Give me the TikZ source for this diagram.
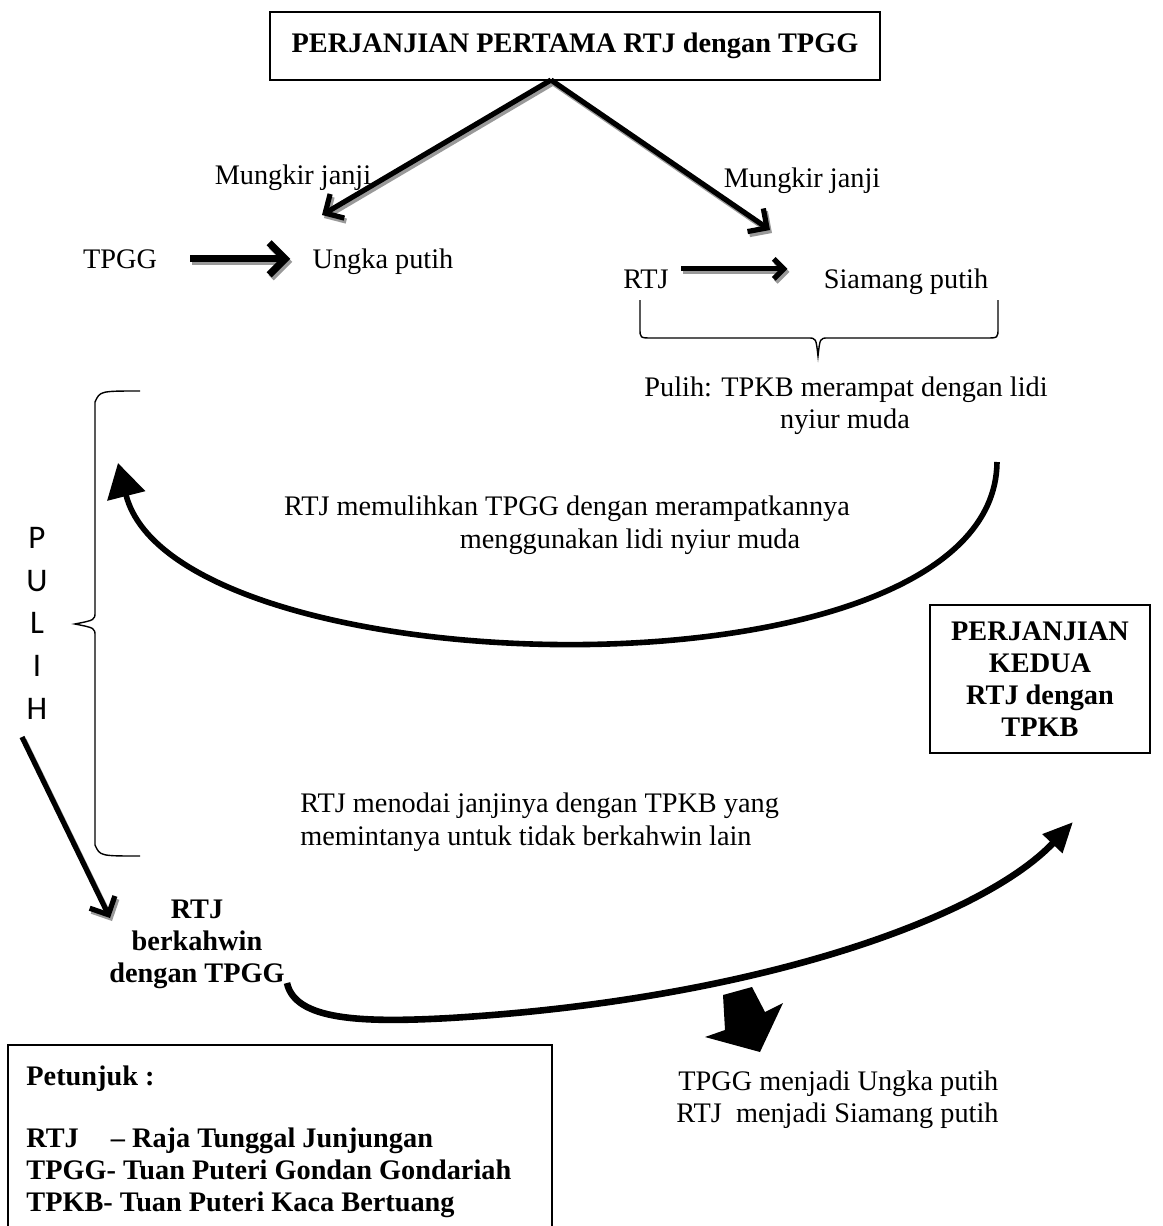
\documentclass[tikz,border=0pt]{standalone}
\usepackage{fontspec}
\setmainfont{Liberation Serif}
\newfontfamily\pulihfont{Carlito}
\usetikzlibrary{arrows.meta,calc}
\begin{document}
\begin{tikzpicture}[x=0.5pt,y=-0.5pt,
  every node/.style={inner sep=0pt, font=\fontsize{14.15pt}{16pt}\selectfont},
  lbl/.style={anchor=base},
  lblw/.style={anchor=base west},
  bold/.style={font=\fontsize{14.15pt}{16pt}\selectfont\bfseries},
  pl/.style={anchor=base, font=\fontsize{16.5pt}{18pt}\selectfont\pulihfont},
  boxnode/.style={draw, line width=0.8pt},
  bracepath/.style={line width=0.7pt},
  shade/.style={draw=black!40, transform canvas={shift={(1pt,-1.5pt)}}},
  barb/.style={-{Straight Barb[length=7pt,width=14pt]}, line width=2.6pt},
  barbthick/.style={-{Straight Barb[length=8pt,width=16pt]}, line width=3.6pt},
  barbsmall/.style={-{Straight Barb[length=5pt,width=10pt]}, line width=2.6pt},
  curveU/.style={line width=2.8pt, -{Triangle[length=17pt,width=19pt]}},
  curveB/.style={line width=3.3pt, -{Triangle[length=15pt,width=13pt]}}
]
\useasboundingbox (0,0) rectangle (1162,1226);

% top box
\node[boxnode, bold, minimum width=305pt, minimum height=34pt] (t1) at (575,46) {PERJANJIAN PERTAMA RTJ dengan TPGG};
\coordinate (apex) at (551,80);
\coordinate (lt) at (322,215);
\coordinate (rt) at (770,230);
\draw[barb, shade] (apex) -- (lt);
\draw[barb] (apex) -- (lt);
\draw[barb, shade] (apex) -- (rt);
\draw[barb] (apex) -- (rt);
\node[lbl] (m1) at (293,184) {Mungkir janji};
\node[lbl] (m2) at (802,187) {Mungkir janji};

% TPGG -> Ungka putih
\node[lbl] (tpgg) at (120,268) {TPGG};
\node[lbl] (ungka) at (383,268) {Ungka putih};
\draw[barbthick, shade] ($(tpgg.east)+(33,0)$) -- ($(tpgg.east -| ungka.west)+(-22,0)$);
\draw[barbthick] ($(tpgg.east)+(33,0)$) -- ($(tpgg.east -| ungka.west)+(-22,0)$);

% RTJ -> Siamang putih
\node[lbl] (rtj) at (646,288) {RTJ};
\node[lbl] (siamang) at (906,288) {Siamang putih};
\draw[barbsmall, shade] ($(rtj.east)+(12,-10)$) -- ($(rtj.east -| siamang.west)+(-36,-10)$);
\draw[barbsmall] ($(rtj.east)+(12,-10)$) -- ($(rtj.east -| siamang.west)+(-36,-10)$);

% right brace
\draw[bracepath] (640,300) -- (640,328) .. controls (640,338) .. (652,338) -- (808,338)
  .. controls (816,338) .. (818,356) .. controls (820,338) .. (828,338) -- (986,338)
  .. controls (998,338) .. (998,328) -- (998,300);
\node[lbl] (pulih1) at (846,396) {Pulih: TPKB merampat dengan lidi};
\node[lbl] (pulih2) at (845,428) {nyiur muda};

% left brace
\draw[bracepath] (140,391) .. controls (100,391) .. (95,402) -- (95,612)
  .. controls (95,620) .. (75,624) .. controls (95,628) .. (95,636) -- (95,845)
  .. controls (100,856) .. (140,856);

% PULIH letters
\node[pl] (pP) at (37,548) {P};
\node[pl] (pU) at (37,591) {U};
\node[pl] (pL) at (37,633) {L};
\node[pl] (pI) at (37,676) {I};
\node[pl] (pH) at (37,719) {H};

% big U curve
\coordinate (uR) at (997,462);
\coordinate (uL) at (118,463);
\draw[curveU] (uR) .. controls (995,710) and (175,690) .. (uL);
\node[lbl] (c1) at (567,515) {RTJ memulihkan TPGG dengan merampatkannya};
\node[lbl] (c2) at (630,548) {menggunakan lidi nyiur muda};

% second box
\node[boxnode, bold, minimum width=110pt, minimum height=74pt, align=center] (t2) at (1040,679)
  {PERJANJIAN\\KEDUA\\RTJ dengan\\TPKB};

% menodai text
\node[lblw] (d1) at (300,812) {RTJ menodai janjinya dengan TPKB yang};
\node[lblw] (d2) at (300,845) {memintanya untuk tidak berkahwin lain};

% left diagonal arrow
\coordinate (ds) at (22,737);
\coordinate (de) at (110,918);
\draw[barb, shade] (ds) -- (de);
\draw[barb] (ds) -- (de);

% RTJ berkahwin
\node[lbl, bold] (k1) at (197,918) {RTJ};
\node[lbl, bold] (k2) at (197,950) {berkahwin};
\node[lbl, bold] (k3) at (197,982) {dengan TPGG};

% bottom curve
\coordinate (bs) at (287,983);
\coordinate (be) at (1073,822);
\draw[curveB] (bs) .. controls (295,1020) and (360,1023) .. (450,1018)
  .. controls (750,1000) and (980,920) .. (be);

% block arrow
\fill (723,995) -- (752,987) -- (765,1012) -- (783,1003) -- (760,1052) -- (705,1037) -- (725,1030) -- cycle;

% result text
\node[lblw] (r1) at (678,1090) {TPGG menjadi Ungka putih};
\node[lblw] (r2) at (676,1122) {RTJ\ \ menjadi Siamang putih};

% legend
\draw[boxnode] (8,1240) -- (8,1045) -- (552,1045) -- (552,1240);
\node[lblw, bold] (g1) at (26,1085) {Petunjuk :};
\node[lblw, bold] (g2) at (26,1147) {RTJ\hspace{16pt}– Raja Tunggal Junjungan};
\node[lblw, bold] (g3) at (26,1179) {TPGG- Tuan Puteri Gondan Gondariah};
\node[lblw, bold] (g4) at (26,1211) {TPKB- Tuan Puteri Kaca Bertuang};
\end{tikzpicture}
\end{document}
